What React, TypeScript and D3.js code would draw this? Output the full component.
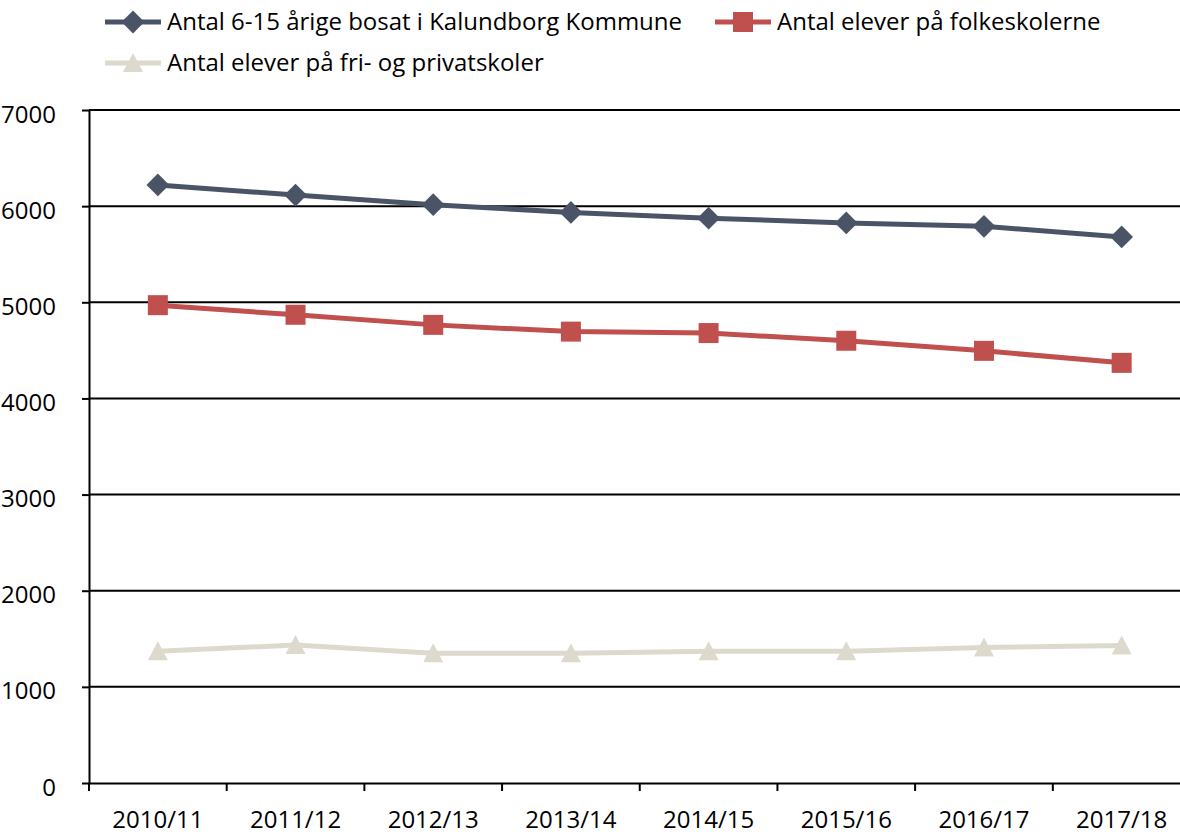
import { useEffect, useRef } from "react";
import * as d3 from "d3";

const years = ["2010/11", "2011/12", "2012/13", "2013/14", "2014/15", "2015/16", "2016/17", "2017/18"];
const residents = [6220, 6115, 6015, 5935, 5875, 5825, 5790, 5680];
const publicSchool = [4970, 4870, 4765, 4695, 4680, 4600, 4495, 4370];
const privateSchool = [1370, 1435, 1350, 1350, 1370, 1370, 1410, 1430];
const yTicks = [0, 1000, 2000, 3000, 4000, 5000, 6000, 7000];

const seriesNames = [
    "Antal 6-15 årige bosat i Kalundborg Kommune",
    "Antal elever på folkeskolerne",
    "Antal elever på fri- og privatskoler",
];
const seriesColors = ["#4a5466", "#c0504d", "#dddacd"];

export default function App() {
    const chartRef = useRef<SVGSVGElement | null>(null);

    useEffect(() => {
        if (!chartRef.current) return;
        document.body.style.margin = "0";

        const width = 1180;
        const height = 837;
        const font = "Open Sans, sans-serif";
        const fontSize = 24;

        d3.select(chartRef.current).selectAll("*").remove();

        const svg = d3.select(chartRef.current)
            .attr("width", width)
            .attr("height", height)
            .style("display", "block")
            .style("background", "#fff");

        const x = d3.scaleBand<string>().domain(years).range([89, 1190.5]);
        const y = d3.scaleLinear().domain([0, 7000]).range([783, 110]);

        // gridlines
        svg.append("g")
            .selectAll("line")
            .data(yTicks.filter((d) => d > 0))
            .enter()
            .append("line")
            .attr("x1", 89)
            .attr("x2", 1190)
            .attr("y1", (d) => y(d))
            .attr("y2", (d) => y(d))
            .attr("stroke", "#000")
            .attr("stroke-width", 2);

        const yAxis = svg.append("g")
            .attr("transform", "translate(89,0)")
            .call(d3.axisLeft(y).tickValues(yTicks).tickFormat(d3.format("d")).tickSize(7).tickSizeOuter(0).tickPadding(26));
        yAxis.select(".domain").attr("stroke-width", 2);
        yAxis.selectAll(".tick line").attr("stroke-width", 2);
        yAxis.selectAll("text")
            .attr("font-family", font)
            .attr("font-size", fontSize)
            .attr("fill", "#000")
            .attr("dy", "0.5em");

        const xAxis = svg.append("g")
            .attr("transform", "translate(0,783)")
            .call(d3.axisBottom(x).tickSize(0).tickSizeOuter(0).tickPadding(28));
        xAxis.select(".domain").attr("stroke-width", 2);
        xAxis.selectAll("text")
            .attr("font-family", font)
            .attr("font-size", fontSize)
            .attr("fill", "#000");

        // category boundary ticks
        svg.append("g")
            .selectAll("line")
            .data(years)
            .enter()
            .append("line")
            .attr("x1", (d) => x(d)!)
            .attr("x2", (d) => x(d)!)
            .attr("y1", 783)
            .attr("y2", 791)
            .attr("stroke", "#000")
            .attr("stroke-width", 2);

        const cx = (d: string) => x(d)! + x.bandwidth() / 2;
        const allSeries = [residents, publicSchool, privateSchool];
        const triangle = "M0,-10L10,9L-10,9Z";
        const symbols = [
            d3.symbol().type(d3.symbolDiamond2).size(330)()!,
            d3.symbol().type(d3.symbolSquare).size(400)()!,
            triangle,
        ];

        allSeries.forEach((values, si) => {
            const line = d3.line<number>()
                .x((d, i) => cx(years[i]))
                .y((d) => y(d));
            svg.append("path")
                .datum(values)
                .attr("d", line)
                .attr("fill", "none")
                .attr("stroke", seriesColors[si])
                .attr("stroke-width", 5);
            svg.append("g")
                .selectAll("path")
                .data(values)
                .enter()
                .append("path")
                .attr("d", symbols[si])
                .attr("transform", (d, i) => `translate(${cx(years[i])},${y(d)})`)
                .attr("fill", seriesColors[si]);
        });

        // legend
        const legendPos = [
            { x: 105, y: 22 },
            { x: 715, y: 22 },
            { x: 105, y: 63 },
        ];
        legendPos.forEach((p, si) => {
            const g = svg.append("g").attr("transform", `translate(${p.x},${p.y})`);
            g.append("line")
                .attr("x1", 0)
                .attr("x2", 56)
                .attr("stroke", seriesColors[si])
                .attr("stroke-width", 5);
            g.append("path")
                .attr("d", symbols[si])
                .attr("transform", "translate(28,0)")
                .attr("fill", seriesColors[si]);
            g.append("text")
                .attr("x", 62)
                .attr("dy", "0.35em")
                .attr("font-family", font)
                .attr("font-size", fontSize)
                .attr("fill", "#000")
                .text(seriesNames[si]);
        });
    }, []);

    return <svg ref={(el) => { if (el) chartRef.current = el; }}></svg>;
}
